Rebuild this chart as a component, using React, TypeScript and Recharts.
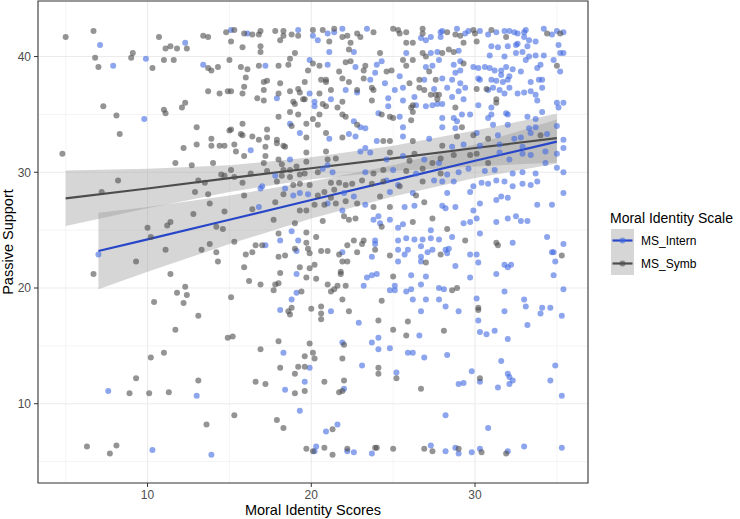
import { ComposedChart, Scatter, Line, Area, XAxis, YAxis, CartesianGrid, ReferenceArea } from "recharts";

// points (x = moral identity score, y = passive support)
const internPoints: [number, number][] = [
  [7.1, 41.0], [7.9, 39.2], [9.9, 39.8], [12.3, 41.2], [13.4, 39.3], [9.8, 34.6],
  [7.0, 22.9], [7.6, 11.1], [13.0, 10.7], [10.3, 6.0], [13.9, 5.6],
  [15.1, 42.3], [16.1, 42.0], [19.2, 42.3], [20.1, 41.8], [21.0, 42.0], [21.4, 42.1], [21.9, 42.4], [23.4, 42.4],
  [20.4, 41.4], [21.1, 40.4], [22.6, 40.4], [17.2, 39.2], [19.9, 39.7], [21.0, 39.3], [22.7, 39.1], [24.0, 39.3],
  [24.3, 39.6], [23.9, 38.6], [25.4, 38.3], [23.6, 38.0], [24.5, 37.7], [19.9, 36.8], [22.1, 37.1], [22.8, 36.9],
  [25.1, 37.1], [24.7, 36.4], [17.9, 36.4], [20.2, 36.1], [20.2, 35.7], [21.2, 36.3], [24.7, 35.7], [25.6, 36.2],
  [24.1, 35.1], [18.7, 34.2], [19.3, 33.4], [21.1, 32.9], [22.3, 33.3], [22.7, 33.1], [22.6, 34.4], [23.0, 33.9],
  [23.3, 33.8], [25.6, 33.9], [25.6, 33.1], [24.0, 32.7], [16.3, 31.9], [23.0, 31.8], [23.3, 32.1], [23.6, 31.7],
  [18.7, 31.1], [24.6, 31.1], [25.6, 31.4], [17.8, 29.7], [20.7, 30.3], [21.0, 30.6], [21.3, 30.0], [23.3, 30.0],
  [25.0, 30.2], [17.0, 28.8], [24.6, 29.3], [18.4, 28.6], [16.9, 28.6], [18.9, 28.0], [19.3, 28.2], [19.8, 28.1],
  [21.0, 27.3], [22.0, 28.2], [22.6, 27.9], [24.8, 28.3], [25.3, 28.9], [16.8, 27.0], [21.9, 26.7], [23.3, 27.2],
  [23.8, 25.9], [24.1, 26.2], [24.2, 25.6], [24.8, 25.9], [25.3, 25.2], [25.6, 25.5], [18.8, 24.9], [19.2, 24.1],
  [18.1, 24.1], [23.9, 24.1], [25.3, 24.1],
  [17.2, 23.7], [19.1, 23.2], [21.9, 23.1], [23.7, 22.7], [23.9, 23.8], [25.3, 23.3], [25.3, 22.3], [19.1, 21.2],
  [23.4, 20.9], [23.7, 21.1], [24.0, 21.2], [23.2, 20.2], [25.1, 20.2], [24.8, 19.8], [25.1, 19.8], [19.1, 19.6],
  [18.8, 19.0], [18.1, 18.1], [21.2, 18.0], [22.9, 17.0], [18.3, 14.4], [21.9, 15.3], [23.7, 15.3], [24.1, 15.7],
  [24.1, 14.7], [24.8, 14.8], [23.1, 13.3], [25.2, 12.7], [19.9, 13.1], [18.4, 11.2], [19.6, 11.9], [22.0, 11.3],
  [19.3, 9.4], [20.9, 7.6], [21.6, 8.2], [20.3, 6.3], [20.2, 5.9], [22.2, 5.9], [22.6, 5.8], [23.7, 5.7],
  [27.3, 41.7], [27.9, 42.1], [28.0, 42.2], [28.9, 42.4], [29.4, 42.0], [29.6, 42.2], [30.3, 42.2], [30.8, 41.9],
  [31.3, 42.1], [31.8, 42.2], [32.1, 42.2], [32.4, 42.1], [32.6, 42.0], [33.0, 42.1], [33.1, 42.3], [33.0, 41.7],
  [33.3, 41.4], [33.7, 41.3], [34.2, 42.4], [34.7, 41.9], [35.0, 42.2], [35.4, 42.1], [26.7, 41.6], [27.9, 41.7],
  [27.0, 41.4], [31.0, 40.9], [31.4, 40.8], [32.0, 40.9], [32.5, 41.0], [32.6, 41.1], [33.2, 40.9], [35.1, 41.0],
  [25.8, 40.3], [27.3, 40.3], [27.7, 40.4], [29.0, 40.5], [27.8, 39.7], [29.1, 39.6], [30.9, 40.1], [31.8, 40.0],
  [32.5, 40.3], [32.9, 40.4], [33.1, 39.7], [33.3, 40.0], [33.7, 40.1], [34.2, 40.1], [34.8, 39.7], [35.2, 40.3],
  [35.4, 40.3], [27.0, 39.1], [27.4, 39.2], [28.7, 39.3], [28.8, 38.6], [29.1, 38.8], [29.9, 39.1], [30.2, 39.0],
  [30.6, 39.1], [30.9, 39.0], [31.2, 38.8], [31.6, 38.8], [31.9, 39.1], [32.3, 38.9], [32.8, 38.7], [33.8, 39.0],
  [34.0, 39.3], [35.2, 38.7], [26.9, 38.0], [28.0, 38.1], [28.6, 38.0], [29.1, 37.7], [30.2, 38.1], [30.3, 38.0],
  [31.0, 38.0], [31.3, 37.9], [31.7, 37.8], [32.0, 38.0], [31.6, 38.4], [32.1, 38.3], [33.4, 37.8], [33.9, 38.0],
  [34.1, 38.0], [25.6, 37.3], [27.5, 37.2], [28.3, 37.3], [29.0, 37.0], [29.4, 37.3], [30.8, 37.1], [31.1, 37.3],
  [31.5, 37.1], [31.8, 36.8], [32.1, 37.3], [32.6, 36.8], [33.0, 36.9], [33.4, 37.0], [33.7, 36.7], [34.1, 37.3],
  [26.3, 36.5], [28.6, 36.5], [29.3, 36.3], [33.8, 36.2], [26.4, 35.8], [27.0, 35.7], [27.4, 35.8], [27.7, 35.9],
  [28.0, 35.9], [30.2, 35.8], [31.0, 35.6], [31.0, 35.0], [31.9, 35.1], [32.0, 35.0], [33.2, 34.8], [33.7, 34.6],
  [34.1, 35.2], [35.0, 36.0], [35.4, 36.0], [35.1, 35.6], [28.0, 34.7], [28.7, 34.7], [29.2, 35.0], [29.7, 35.0],
  [30.8, 34.7], [25.4, 34.8], [28.0, 33.9], [28.8, 33.8], [28.9, 34.4], [31.1, 34.1], [32.0, 34.1], [33.3, 33.8],
  [33.7, 33.9], [35.0, 34.0], [27.2, 32.9], [30.1, 33.4], [31.4, 33.2], [32.4, 32.9], [32.8, 33.0], [33.4, 33.4],
  [34.4, 33.3], [35.4, 32.8], [28.6, 32.2], [29.3, 32.4], [30.3, 32.3], [31.5, 32.4], [32.9, 32.2], [35.4, 32.1],
  [34.3, 31.8], [26.9, 31.1], [27.8, 30.8], [31.5, 31.7], [32.1, 31.1], [32.9, 31.6], [33.4, 31.5], [35.0, 31.6],
  [34.3, 30.8], [35.0, 30.4], [35.4, 30.0], [29.0, 30.0], [29.6, 30.3], [30.6, 30.1], [31.2, 30.2], [32.3, 29.9],
  [32.9, 30.0], [33.7, 29.9], [26.4, 29.9], [28.3, 29.8], [27.5, 29.3], [28.0, 29.2], [28.7, 29.2], [30.4, 29.1],
  [30.8, 29.0], [31.3, 29.3], [31.8, 29.2], [32.3, 28.8], [32.9, 29.0], [33.4, 28.9], [33.8, 29.2], [29.9, 28.8],
  [26.2, 28.2], [28.3, 28.2], [29.7, 28.3], [31.6, 27.9], [32.0, 27.8], [35.4, 28.2], [25.7, 27.0], [26.3, 27.1],
  [28.0, 27.1], [28.2, 26.9], [28.8, 27.0], [30.3, 27.3], [29.9, 26.7], [31.3, 27.6], [33.8, 27.2], [34.7, 27.2],
  [29.3, 25.6], [29.7, 25.7], [30.1, 26.0], [31.3, 25.7], [32.0, 26.0], [32.5, 26.2], [32.8, 25.8], [33.2, 25.8],
  [27.3, 25.0], [25.8, 24.3], [26.3, 24.2], [26.8, 24.2], [27.3, 24.3], [27.8, 24.2], [28.6, 24.4], [30.3, 24.7],
  [32.3, 23.9], [34.4, 24.4], [35.4, 23.8],
  [25.7, 22.9], [25.9, 23.3], [26.7, 23.6], [26.7, 22.7], [26.7, 22.3], [27.1, 23.1], [27.4, 23.3], [28.2, 23.3],
  [28.4, 23.4], [28.3, 23.0], [28.8, 21.9], [29.7, 22.9], [30.1, 22.9], [30.2, 22.2], [31.3, 21.2], [31.8, 22.0],
  [32.0, 21.8], [32.2, 22.0], [34.7, 23.1], [34.8, 23.1], [34.9, 22.3], [34.8, 21.1], [35.4, 19.9], [26.1, 21.1],
  [27.0, 21.0], [26.7, 20.3], [25.8, 19.7], [26.1, 19.9], [27.8, 20.0], [28.1, 19.9], [29.7, 20.9], [31.8, 19.7],
  [26.2, 19.0], [27.0, 19.0], [27.8, 19.0], [28.2, 18.4], [26.7, 18.0], [29.0, 18.0], [30.1, 19.1], [30.2, 17.2],
  [31.8, 18.0], [33.0, 19.0], [33.1, 18.4], [34.1, 18.3], [34.0, 17.8], [34.6, 18.3], [35.3, 17.6], [33.2, 16.8],
  [26.6, 15.9], [30.3, 16.2], [30.7, 16.0], [31.2, 16.3], [32.0, 15.6], [25.9, 14.4], [26.2, 14.4], [26.9, 14.0],
  [28.3, 14.2], [31.6, 13.7], [34.9, 13.3], [29.8, 12.8], [30.3, 11.9], [29.0, 11.7], [29.3, 11.8], [32.0, 12.6],
  [32.1, 12.3], [32.3, 12.0], [32.1, 11.7], [31.4, 11.4], [34.6, 12.0], [35.3, 10.7], [28.2, 9.0], [30.8, 7.9],
  [27.3, 6.4], [28.2, 5.9], [28.8, 6.2], [29.0, 5.7], [29.8, 5.8], [30.3, 6.1], [32.0, 5.9], [33.0, 6.3], [35.3, 6.2],
];

const symbPoints: [number, number][] = [
  [5.0, 41.7], [6.7, 42.2], [6.8, 39.9], [7.0, 39.1], [9.1, 40.3], [9.0, 39.9], [10.3, 39.0], [10.7, 41.7],
  [11.1, 40.7], [11.4, 40.9], [11.8, 40.7], [11.0, 39.7], [11.6, 39.7], [12.4, 40.7], [13.4, 41.8], [13.7, 41.7],
  [13.7, 39.0], [13.9, 38.8], [14.3, 39.1], [13.7, 37.0], [14.4, 36.8], [7.3, 35.7], [8.1, 34.9], [8.3, 33.3],
  [11.0, 35.4], [11.1, 35.1], [12.1, 35.6], [12.3, 36.0], [13.0, 33.9], [12.2, 32.1], [13.0, 32.4], [13.9, 32.9],
  [13.9, 32.3], [14.4, 32.3], [4.8, 31.6], [11.7, 30.8], [12.7, 30.6], [14.0, 30.8], [8.2, 29.3], [7.2, 28.3],
  [13.1, 29.3], [13.5, 29.1], [14.5, 29.8], [12.9, 28.3], [13.7, 28.1], [13.8, 27.3], [12.8, 26.4], [11.4, 25.7],
  [11.2, 25.4], [10.0, 25.2], [10.2, 24.4], [14.2, 25.3], [14.6, 25.1], [13.8, 23.8],
  [6.7, 21.2], [9.3, 22.3], [11.1, 23.3], [11.4, 21.2], [13.3, 23.3], [14.2, 23.1], [14.3, 22.3], [12.3, 20.1],
  [11.8, 19.6], [12.4, 19.4], [12.2, 18.7], [10.4, 18.8], [13.1, 17.6], [11.7, 16.4], [11.0, 14.4], [10.2, 14.0],
  [9.3, 12.2], [13.1, 12.0], [8.9, 10.9], [10.1, 10.9], [11.3, 11.0], [13.6, 8.2], [6.3, 6.3], [7.7, 5.7], [8.1, 6.4],
  [14.8, 42.1], [15.3, 42.3], [15.9, 42.0], [16.4, 41.9], [16.9, 42.2], [16.8, 41.9], [17.8, 42.2], [18.3, 42.2],
  [18.3, 41.8], [18.8, 41.9], [19.2, 41.8], [20.1, 42.3], [20.7, 42.3], [21.4, 42.4], [21.9, 41.7], [22.2, 41.8],
  [22.8, 42.0], [23.0, 41.7], [23.8, 42.1], [25.0, 42.4], [25.3, 42.3], [15.1, 41.3], [15.8, 40.8], [18.1, 41.4],
  [21.1, 41.3], [22.4, 41.2], [16.9, 40.9], [16.9, 40.4], [19.0, 40.3], [22.3, 40.6], [24.2, 40.3], [15.0, 39.7],
  [15.7, 39.1], [16.1, 38.9], [16.8, 39.2], [18.0, 39.2], [18.7, 39.8], [18.6, 39.3], [20.1, 39.4], [20.5, 39.2],
  [22.1, 39.5], [22.4, 39.6], [23.3, 39.2], [21.7, 38.7], [23.2, 38.8], [24.6, 38.7], [24.9, 38.8], [19.8, 38.8],
  [16.0, 38.2], [17.1, 37.8], [17.3, 37.9], [18.1, 37.7], [19.6, 37.8], [20.6, 38.0], [20.9, 38.0], [20.9, 37.8],
  [21.9, 38.1], [22.3, 37.8], [23.2, 38.1], [15.9, 37.4], [15.1, 37.0], [15.8, 36.8], [17.1, 37.1], [18.0, 36.8],
  [18.7, 37.0], [19.2, 37.2], [19.3, 36.9], [19.6, 36.3], [20.5, 36.8], [21.2, 37.1], [22.8, 37.1], [23.7, 37.3],
  [23.8, 37.1], [14.9, 37.0], [16.7, 36.4], [17.1, 36.2], [19.0, 35.9], [18.9, 36.1], [19.5, 36.3], [20.7, 35.9],
  [20.9, 35.7], [21.6, 35.6], [21.9, 36.1], [23.7, 36.2], [18.0, 34.8], [18.7, 35.2], [19.2, 35.0], [20.1, 34.6],
  [20.5, 35.0], [21.9, 35.0], [22.1, 34.8], [24.3, 35.0], [24.8, 34.8], [25.0, 34.7], [15.8, 34.2], [15.0, 33.6],
  [15.1, 33.7], [15.7, 33.3], [15.8, 33.2], [16.4, 33.1], [16.8, 32.8], [17.3, 33.7], [17.3, 33.0], [17.9, 32.8],
  [18.8, 34.0], [19.7, 34.2], [19.7, 33.0], [20.4, 34.1], [20.9, 33.4], [21.9, 33.0], [22.8, 34.1], [24.4, 32.7],
  [24.8, 32.7], [14.7, 32.3], [15.3, 32.4], [15.4, 31.8], [15.9, 31.4], [17.2, 32.2], [17.2, 31.4], [17.9, 32.5],
  [18.3, 32.3], [18.4, 32.2], [19.7, 31.7], [20.9, 31.8], [24.8, 31.7], [18.0, 31.1], [18.2, 30.7], [19.1, 30.5],
  [19.7, 30.9], [21.0, 31.1], [21.5, 31.2], [17.1, 30.8], [14.7, 29.7], [15.1, 30.2], [15.3, 29.6], [16.3, 29.9],
  [17.3, 30.1], [18.3, 30.2], [18.7, 30.2], [18.2, 29.7], [18.7, 29.6], [19.3, 29.8], [19.6, 29.9], [20.4, 30.0],
  [23.8, 29.9], [24.4, 30.2], [15.8, 29.1], [17.9, 29.2], [19.3, 29.0], [18.9, 28.9], [19.9, 28.9], [21.2, 29.1],
  [21.7, 29.1], [22.1, 28.9], [22.5, 29.0], [23.1, 29.3], [23.7, 29.0], [24.4, 29.2], [15.9, 28.0], [18.3, 28.1],
  [20.4, 28.0], [20.8, 28.3], [21.2, 27.8], [21.4, 28.5], [24.2, 27.9], [16.4, 26.8], [17.8, 27.4], [19.3, 26.7],
  [19.7, 26.7], [20.2, 27.2], [20.8, 27.2], [21.5, 27.3], [22.1, 27.5], [22.8, 27.3], [23.8, 27.0], [24.8, 27.0],
  [14.7, 26.6], [17.7, 25.9], [19.0, 25.6], [20.7, 25.8], [22.0, 26.2], [22.3, 25.9], [22.7, 26.0], [24.3, 25.3],
  [18.0, 24.7], [19.7, 24.8], [20.3, 24.4], [22.6, 24.1], [23.2, 24.1], [15.3, 24.0],
  [16.0, 22.9], [16.4, 23.1], [16.6, 23.7], [17.0, 23.7], [18.0, 22.7], [18.4, 22.8], [19.0, 23.4], [19.7, 23.9],
  [19.8, 23.4], [19.9, 23.0], [20.6, 23.2], [21.0, 23.2], [21.7, 22.9], [21.9, 22.3], [22.2, 22.3], [22.2, 23.7],
  [22.8, 23.1], [23.1, 23.8], [23.9, 23.3], [24.8, 22.8], [15.9, 21.8], [16.2, 20.6], [16.9, 20.3], [17.7, 19.8],
  [17.8, 20.3], [18.0, 20.4], [18.1, 21.3], [19.3, 21.8], [19.7, 20.9], [19.9, 21.7], [20.2, 22.0], [20.3, 20.8],
  [21.0, 20.3], [21.2, 19.7], [21.4, 19.9], [21.6, 20.2], [21.8, 21.4], [21.8, 21.2], [22.1, 20.2], [25.0, 21.0],
  [15.1, 19.2], [19.4, 19.7], [18.6, 18.0], [18.7, 17.7], [18.8, 18.3], [20.0, 18.2], [20.6, 18.4], [20.6, 17.8],
  [20.6, 17.3], [21.9, 19.0], [22.3, 18.0], [24.1, 17.2], [24.3, 18.9], [25.0, 16.4], [14.9, 15.7], [15.2, 15.8],
  [16.9, 14.7], [18.0, 15.4], [19.9, 15.2], [19.6, 14.1], [20.1, 14.4], [20.2, 13.9], [22.0, 15.1], [21.9, 13.9],
  [24.1, 13.1], [24.1, 12.6], [25.2, 12.2], [18.1, 13.1], [19.2, 13.2], [19.6, 13.2], [19.0, 12.6], [16.6, 11.9],
  [17.2, 11.7], [19.0, 10.9], [19.6, 11.1], [20.8, 11.9], [22.0, 12.0], [21.7, 11.0], [21.9, 11.1], [15.3, 9.0],
  [17.9, 8.6], [18.3, 7.9], [21.3, 7.8], [19.7, 6.1], [20.1, 5.9], [20.8, 6.2], [21.3, 5.6], [22.2, 6.1],
  [23.9, 6.2], [24.0, 6.2], [25.0, 6.1],
  [25.4, 42.0], [25.8, 42.1], [26.8, 42.4], [26.8, 42.0], [28.3, 42.1], [28.8, 41.9], [29.1, 41.8], [29.9, 42.3],
  [30.0, 42.0], [31.0, 42.3], [31.9, 41.7], [34.4, 42.0], [35.2, 42.0], [25.8, 41.2], [26.2, 41.2], [29.3, 41.2],
  [30.1, 41.3], [26.8, 40.3], [27.0, 40.0], [28.0, 40.3], [28.4, 40.6], [28.7, 40.4], [25.6, 39.7], [26.2, 39.7],
  [25.8, 39.2], [29.3, 39.4], [27.2, 38.7], [35.0, 39.2], [26.0, 37.7], [26.6, 38.0], [27.6, 38.0], [26.6, 37.3],
  [26.9, 37.1], [27.3, 36.7], [30.1, 37.2], [30.7, 37.2], [27.6, 36.7], [27.8, 36.7], [27.7, 36.3], [31.3, 36.3],
  [26.1, 35.6], [26.2, 35.8], [26.2, 35.2], [26.1, 34.5], [28.8, 35.6], [31.3, 36.0], [29.2, 33.9], [28.9, 33.1],
  [29.9, 33.2], [30.8, 32.9], [34.0, 33.2], [26.2, 32.7], [28.0, 32.3], [26.3, 31.6], [26.0, 31.0], [27.4, 30.8],
  [27.9, 31.2], [28.7, 31.5], [29.7, 31.5], [30.1, 31.6], [30.8, 30.8], [25.8, 30.1], [26.8, 30.3], [27.9, 29.9],
  [26.8, 29.2], [25.4, 28.8], [26.4, 28.0], [26.9, 27.4], [27.4, 26.0], [26.2, 25.7], [28.3, 25.1], [29.4, 24.1],
  [27.0, 22.2], [27.9, 22.9], [31.3, 23.9], [31.4, 23.7], [35.3, 22.8], [28.6, 19.8], [28.9, 20.0], [30.2, 18.3],
  [30.2, 18.1], [25.9, 17.1], [28.1, 16.3], [25.8, 15.9], [30.3, 12.2], [26.7, 11.3], [26.9, 6.1], [27.4, 5.9],
  [29.0, 6.1], [30.4, 5.8], [31.9, 5.7],
];

// linear fits and 95% bands, read at a few x positions
const internFitX = [7, 10, 15, 20, 25, 30, 35];
const internFit = [23.2, 24.2, 25.9, 27.6, 29.3, 31.0, 32.65];
const internLow = [19.9, 21.4, 23.8, 26.0, 27.9, 29.5, 30.75];
const internHigh = [26.5, 27.0, 28.0, 29.2, 30.6, 32.4, 34.55];

const symbFitX = [5, 10, 15, 20, 25, 30, 35];
const symbFit = [27.75, 28.6, 29.5, 30.35, 31.2, 32.1, 32.95];
const symbLow = [25.35, 26.9, 28.3, 29.4, 30.1, 30.5, 30.85];
const symbHigh = [30.15, 30.3, 30.6, 31.3, 32.3, 33.6, 35.05];

const X_DOMAIN: [number, number] = [3.31, 36.9];
const Y_DOMAIN: [number, number] = [3.15, 44.8];
const X_MAJOR = [10, 20, 30];
const X_MINOR = [5, 15, 25, 35];
const Y_MAJOR = [10, 20, 30, 40];
const Y_MINOR = [5, 15, 25, 35];

const INTERN_POINT = "#4169E1";
const INTERN_LINE = "#2846C8";
const SYMB_POINT = "#4D4D4D";
const SYMB_LINE = "#4D4D4D";
const FONT = "'Liberation Sans', Arial, Helvetica, sans-serif";

const toPoints = (pts: [number, number][]) => pts.map(([x, y]) => ({ x, y }));
const toBand = (xs: number[], fit: number[], low: number[], high: number[]) =>
  xs.map((x, i) => ({ x, y: fit[i], band: [low[i], high[i]] }));

const internData = toPoints(internPoints);
const symbData = toPoints(symbPoints);
const internBand = toBand(internFitX, internFit, internLow, internHigh);
const symbBand = toBand(symbFitX, symbFit, symbLow, symbHigh);

const scaleX = (v: number, xAxis: any, offset: any) =>
  typeof xAxis?.scale === "function"
    ? xAxis.scale(v)
    : offset.left + ((v - X_DOMAIN[0]) / (X_DOMAIN[1] - X_DOMAIN[0])) * offset.width;
const scaleY = (v: number, yAxis: any, offset: any) =>
  typeof yAxis?.scale === "function"
    ? yAxis.scale(v)
    : offset.top + ((Y_DOMAIN[1] - v) / (Y_DOMAIN[1] - Y_DOMAIN[0])) * offset.height;

const dot = (color: string) => (props: any) =>
  <circle cx={props.cx} cy={props.cy} r={3} fill={color} fillOpacity={0.6} />;

const App = () => {
  return (
    <div style={{ position: "absolute", left: 0, top: 0, width: 740, height: 519, background: "#fff", fontFamily: FONT }}>
      <ComposedChart width={740} height={519} margin={{ top: 1, right: 152, bottom: 0, left: 0 }}>
        <CartesianGrid
          stroke="#ebebeb"
          strokeWidth={0.55}
          verticalCoordinatesGenerator={({ xAxis, offset }: any) => X_MINOR.map((v) => scaleX(v, xAxis, offset))}
          horizontalCoordinatesGenerator={({ yAxis, offset }: any) => Y_MINOR.map((v) => scaleY(v, yAxis, offset))}
        />
        <CartesianGrid
          stroke="#ebebeb"
          strokeWidth={1.1}
          verticalCoordinatesGenerator={({ xAxis, offset }: any) => X_MAJOR.map((v) => scaleX(v, xAxis, offset))}
          horizontalCoordinatesGenerator={({ yAxis, offset }: any) => Y_MAJOR.map((v) => scaleY(v, yAxis, offset))}
        />
        <XAxis
          dataKey="x"
          type="number"
          domain={X_DOMAIN}
          allowDataOverflow
          ticks={X_MAJOR}
          height={36}
          tickSize={4}
          tickMargin={3}
          axisLine={false}
          tickLine={{ stroke: "#333333" }}
          tick={{ fill: "#4d4d4d", fontSize: 12, fontFamily: FONT }}
        />
        <YAxis
          dataKey="y"
          type="number"
          domain={Y_DOMAIN}
          allowDataOverflow
          ticks={Y_MAJOR}
          width={38}
          tickSize={4}
          tickMargin={3}
          axisLine={false}
          tickLine={{ stroke: "#333333" }}
          tick={{ fill: "#4d4d4d", fontSize: 12, fontFamily: FONT }}
        />
        <Scatter name="MS_Intern" data={internData} shape={dot(INTERN_POINT)} isAnimationActive={false} />
        <Scatter name="MS_Symb" data={symbData} shape={dot(SYMB_POINT)} isAnimationActive={false} />
        <Area
          data={internBand}
          dataKey="band"
          type="linear"
          stroke="none"
          fill="#999999"
          fillOpacity={0.4}
          isAnimationActive={false}
        />
        <Area
          data={symbBand}
          dataKey="band"
          type="linear"
          stroke="none"
          fill="#999999"
          fillOpacity={0.4}
          isAnimationActive={false}
        />
        <Line data={internBand} dataKey="y" type="linear" stroke={INTERN_LINE} strokeWidth={2.2} dot={false} isAnimationActive={false} />
        <Line data={symbBand} dataKey="y" type="linear" stroke={SYMB_LINE} strokeWidth={2.2} dot={false} isAnimationActive={false} />
        <ReferenceArea
          x1={X_DOMAIN[0]}
          x2={X_DOMAIN[1]}
          y1={Y_DOMAIN[0]}
          y2={Y_DOMAIN[1]}
          fill="none"
          stroke="#333333"
          strokeWidth={1.1}
          ifOverflow="visible"
        />
      </ComposedChart>
      <svg width={740} height={519} style={{ position: "absolute", left: 0, top: 0, pointerEvents: "none" }}>
        <text x={313} y={515} textAnchor="middle" fontSize={14.5} fill="#000" fontFamily={FONT}>
          Moral Identity Scores
        </text>
        <text x={13} y={242} textAnchor="middle" fontSize={14.5} fill="#000" fontFamily={FONT} transform="rotate(-90 13 242)">
          Passive Support
        </text>
        <text x={610} y={223} fontSize={14} fill="#000" fontFamily={FONT}>
          Moral Identity Scale
        </text>
        <rect x={611} y={229} width={23} height={23} fill="#d6d6d6" />
        <line x1={612.5} x2={632.5} y1={240.5} y2={240.5} stroke={INTERN_LINE} strokeWidth={2.2} />
        <circle cx={622.5} cy={240.5} r={3} fill={INTERN_POINT} fillOpacity={0.6} />
        <text x={641} y={245} fontSize={12} fill="#000" fontFamily={FONT}>MS_Intern</text>
        <rect x={611} y={252} width={23} height={23} fill="#d6d6d6" />
        <line x1={612.5} x2={632.5} y1={263.5} y2={263.5} stroke={SYMB_LINE} strokeWidth={2.2} />
        <circle cx={622.5} cy={263.5} r={3} fill={SYMB_POINT} fillOpacity={0.6} />
        <text x={641} y={268} fontSize={12} fill="#000" fontFamily={FONT}>MS_Symb</text>
      </svg>
    </div>
  );
};

export default App;
